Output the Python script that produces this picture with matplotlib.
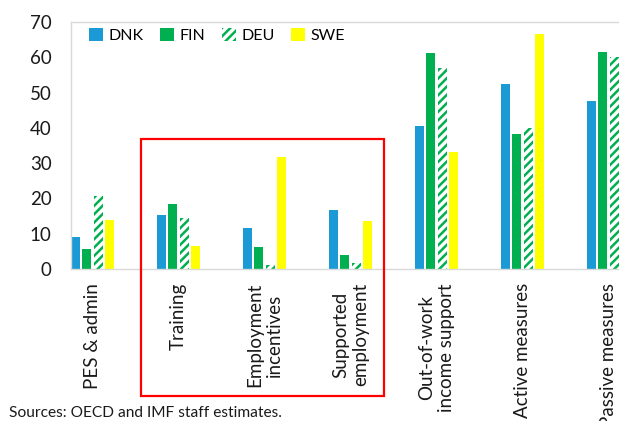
import matplotlib
matplotlib.use("Agg")
import matplotlib.pyplot as plt
import numpy as np
from matplotlib.patches import Rectangle

plt.rcParams['font.family'] = ['Lato', 'DejaVu Sans']
plt.rcParams['hatch.linewidth'] = 1.8

categories = ["PES & admin", "Training", "Employment\nincentives", "Supported\nemployment",
              "Out-of-work\nincome support", "Active measures", "Passive measures"]
countries = ["DNK", "FIN", "DEU", "SWE"]
dnk = [9.0, 15.3, 11.5, 16.6, 40.5, 52.3, 47.6]
fin = [5.7, 18.5, 6.1, 4.0, 61.1, 38.4, 61.5]
deu = [20.7, 14.5, 1.1, 1.7, 57.1, 40.0, 60.1]
swe = [14.0, 6.5, 31.8, 13.7, 33.2, 66.6, 33.2]
y_ticks = [0, 10, 20, 30, 40, 50, 60, 70]
source_note = "Sources: OECD and IMF staff estimates."

blue = "#1B9AD6"
green = "#00B050"
yellow = "#FFFF00"

W, H = 619, 421
fig = plt.figure(figsize=(W / 100, H / 100), dpi=100)

# plot area runs past the right edge of the figure
x0, y_zero, y_top = 71, 269, 22
px_per_cat = 86
x_left = -0.25
x_right = 6.75
ax_w_px = (x_right - x_left) * px_per_cat
ax_h_px = y_zero - y_top
ax = fig.add_axes([x0 / W, (H - y_zero) / H, ax_w_px / W, ax_h_px / H])

x = np.arange(len(categories))
pitch = 0.131
width = 0.105
series = [dnk, fin, deu, swe]
for k, (name, vals) in enumerate(zip(countries, series)):
    pos = x + (k - 1.5) * pitch
    if name == "DEU":
        ax.bar(pos, vals, width, facecolor="white", edgecolor=green, hatch="////",
               linewidth=0, label=name)
    else:
        color = {"DNK": blue, "FIN": green, "SWE": yellow}[name]
        ax.bar(pos, vals, width, color=color, linewidth=0, label=name)

ax.set_xlim(x_left, x_right)
ax.set_ylim(0, 70)
ax.set_yticks(y_ticks)
ax.set_yticklabels([str(v) for v in y_ticks], fontsize=13.5, color="#1a1a1a")
ax.tick_params(axis="y", length=0, pad=14)
ax.set_xticks([])
for s in ax.spines.values():
    s.set_color("#D9D9D9")
    s.set_linewidth(1.0)

# rotated category labels under each group
for i, lab in enumerate(categories):
    ax.annotate(lab, xy=(i, 0), xycoords="data", xytext=(0, -14), textcoords="offset pixels",
                rotation=90, ha="center", va="top", multialignment="center",
                fontsize=13.5, color="#1a1a1a", annotation_clip=False)

leg = ax.legend(loc="upper left", bbox_to_anchor=(8 / ax_w_px, 1.0 + 4 / ax_h_px),
                ncol=4, frameon=False, fontsize=11.5, handlelength=0.85, handleheight=0.85,
                handletextpad=0.35, columnspacing=1.05, borderaxespad=0.25)

# red frame around the active-measure sub-components
fig.patches.append(Rectangle((141 / W, (H - 396) / H), (384 - 141) / W, (396 - 139) / H,
                             transform=fig.transFigure, fill=False, edgecolor="#FF0000",
                             linewidth=1.6, zorder=5))

fig.text(9 / W, (H - 417) / H, source_note, fontsize=11.2, color="#1a1a1a", ha="left",
         va="baseline")

# bottom of the subtitle line above the chart
fig.text(2 / W, 1.0 + 9 / H, "(", fontsize=14, color="#2E75D6", ha="left", va="baseline")
fig.text(384 / W, 1.0 + 9 / H, ")", fontsize=14, color="#2E75D6", ha="left", va="baseline")

fig.savefig("out.png", dpi=100)
